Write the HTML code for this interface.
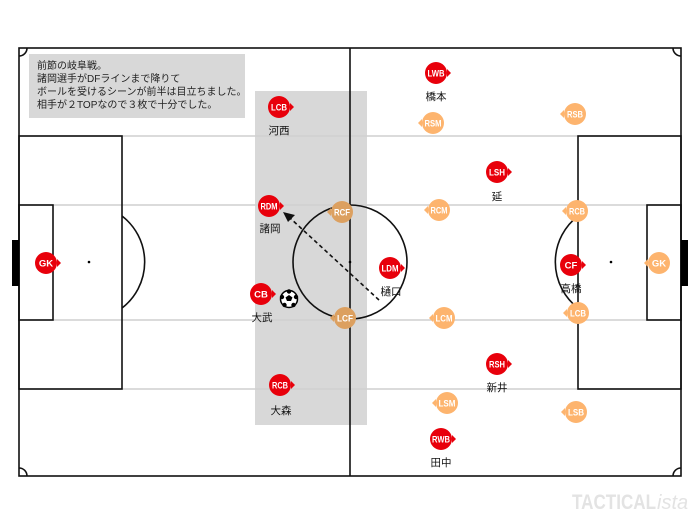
<!DOCTYPE html>
<html><head><meta charset="utf-8"><style>
html,body{margin:0;padding:0;background:#fff;width:700px;height:525px;overflow:hidden}
svg{display:block}
.t{font-family:"Liberation Sans","Noto Sans CJK JP",sans-serif}
.p{font-family:"Liberation Sans",sans-serif;font-weight:bold;font-size:9.5px;fill:#fff;text-anchor:middle}
.n{font-family:"Liberation Sans","Noto Sans CJK JP",sans-serif;font-size:10.5px;fill:#111;text-anchor:middle}
</style></head><body>
<svg width="700" height="525" viewBox="0 0 700 525" xmlns="http://www.w3.org/2000/svg">
<rect x="255" y="91" width="112" height="334" fill="#d8d8d8"/>
<g stroke="#cfcfcf" stroke-width="1.5">
<line x1="19" y1="136" x2="681" y2="136"/>
<line x1="19" y1="205" x2="681" y2="205"/>
<line x1="19" y1="320" x2="681" y2="320"/>
<line x1="19" y1="389" x2="681" y2="389"/>
</g>
<g fill="none" stroke="#111" stroke-width="1.6">
<rect x="19" y="48" width="662" height="428"/>
<line x1="350" y1="48" x2="350" y2="476"/>
<circle cx="350" cy="262" r="57"/>
<rect x="19" y="136" width="103" height="253"/>
<rect x="19" y="205" width="34" height="115"/>
<rect x="578" y="136" width="103" height="253"/>
<rect x="647" y="205" width="34" height="115"/>
<path d="M122 216 A58 58 0 0 1 122 308"/>
<path d="M578 216 A58 58 0 0 0 578 308"/>
<path d="M19 56 A8 8 0 0 0 27 48"/>
<path d="M19 468 A8 8 0 0 1 27 476"/>
<path d="M673 48 A8 8 0 0 0 681 56"/>
<path d="M673 476 A8 8 0 0 1 681 468"/>
</g>
<rect x="12" y="240" width="7" height="46" fill="#000"/>
<rect x="681" y="240" width="7" height="46" fill="#000"/>
<circle cx="89" cy="262" r="1.3" fill="#000"/>
<circle cx="611" cy="262" r="1.3" fill="#000"/>
<circle cx="350" cy="262" r="1.3" fill="#000"/>
<rect x="29" y="54" width="216" height="64" fill="#d8d8d8"/>
<text class="t" font-size="10" fill="#222"><tspan x="37" y="69">前節の岐阜戦。</tspan><tspan x="37" y="82">諸岡選手がDFラインまで降りて</tspan><tspan x="37" y="95">ボールを受けるシーンが前半は目立ちました。</tspan><tspan x="37" y="108">相手が２TOPなので３枚で十分でした。</tspan></text>
<line x1="379" y1="300" x2="290" y2="218" stroke="#111" stroke-width="1.6" stroke-dasharray="4,3"/>
<polygon points="283,212 295,215 288,222" fill="#111"/>
<g>
<g fill="#dca060"><circle cx="342" cy="212" r="11"/><polygon points="331,208 327,212 331,216"/><circle cx="345" cy="318" r="11"/><polygon points="334,314 330,318 334,322"/></g>
<g fill="#fdb46e">
<circle cx="433" cy="123" r="11"/><polygon points="422,119 418,123 422,127"/>
<circle cx="575" cy="114" r="11"/><polygon points="564,110 560,114 564,118"/>
<circle cx="439" cy="210" r="11"/><polygon points="428,206 424,210 428,214"/>
<circle cx="577" cy="211" r="11"/><polygon points="566,207 562,211 566,215"/>
<circle cx="444" cy="318" r="11"/><polygon points="433,314 429,318 433,322"/>
<circle cx="578" cy="313" r="11"/><polygon points="567,309 563,313 567,317"/>
<circle cx="447" cy="403" r="11"/><polygon points="436,399 432,403 436,407"/>
<circle cx="576" cy="412" r="11"/><polygon points="565,408 561,412 565,416"/>
<circle cx="659" cy="263" r="11"/><polygon points="648,259 644,263 648,267"/>
</g>
<text class="p" x="342" y="215.5" textLength="16" lengthAdjust="spacingAndGlyphs">RCF</text><text class="p" x="345" y="321.5" textLength="16" lengthAdjust="spacingAndGlyphs">LCF</text>
<text class="p" x="433" y="126.5" textLength="17" lengthAdjust="spacingAndGlyphs">RSM</text><text class="p" x="575" y="117.5" textLength="16" lengthAdjust="spacingAndGlyphs">RSB</text>
<text class="p" x="439" y="213.5" textLength="17" lengthAdjust="spacingAndGlyphs">RCM</text><text class="p" x="577" y="214.5" textLength="16" lengthAdjust="spacingAndGlyphs">RCB</text>
<text class="p" x="444" y="321.5" textLength="17" lengthAdjust="spacingAndGlyphs">LCM</text><text class="p" x="578" y="316.5" textLength="16" lengthAdjust="spacingAndGlyphs">LCB</text>
<text class="p" x="447" y="406.5" textLength="17" lengthAdjust="spacingAndGlyphs">LSM</text><text class="p" x="576" y="415.5" textLength="16" lengthAdjust="spacingAndGlyphs">LSB</text>
<text class="p" x="659" y="266.5">GK</text>
</g>
<g fill="#e8000b">
<circle cx="46" cy="263" r="11"/><polygon points="57,259 61,263 57,267"/>
<circle cx="279" cy="107" r="11"/><polygon points="290,103 294,107 290,111"/>
<circle cx="269" cy="206" r="11"/><polygon points="280,202 284,206 280,210"/>
<circle cx="261" cy="294" r="11"/><polygon points="272,290 276,294 272,298"/>
<circle cx="280" cy="385" r="11"/><polygon points="291,381 295,385 291,389"/>
<circle cx="390" cy="268" r="11"/><polygon points="401,264 405,268 401,272"/>
<circle cx="436" cy="73" r="11"/><polygon points="447,69 451,73 447,77"/>
<circle cx="497" cy="172" r="11"/><polygon points="508,168 512,172 508,176"/>
<circle cx="497" cy="364" r="11"/><polygon points="508,360 512,364 508,368"/>
<circle cx="441" cy="439" r="11"/><polygon points="452,435 456,439 452,443"/>
<circle cx="571" cy="265" r="11"/><polygon points="582,261 586,265 582,269"/>
</g>
<text class="p" x="46" y="266.5">GK</text><text class="p" x="279" y="110.5" textLength="16" lengthAdjust="spacingAndGlyphs">LCB</text>
<text class="p" x="269" y="209.5" textLength="17" lengthAdjust="spacingAndGlyphs">RDM</text><text class="p" x="261" y="297.5">CB</text>
<text class="p" x="280" y="388.5" textLength="16" lengthAdjust="spacingAndGlyphs">RCB</text><text class="p" x="390" y="271.5" textLength="17" lengthAdjust="spacingAndGlyphs">LDM</text>
<text class="p" x="436" y="76.5" textLength="17" lengthAdjust="spacingAndGlyphs">LWB</text><text class="p" x="497" y="175.5" textLength="16" lengthAdjust="spacingAndGlyphs">LSH</text>
<text class="p" x="497" y="367.5" textLength="16" lengthAdjust="spacingAndGlyphs">RSH</text><text class="p" x="441" y="442.5" textLength="18" lengthAdjust="spacingAndGlyphs">RWB</text>
<text class="p" x="571" y="268.5">CF</text>
<text class="n" x="279" y="134">河西</text><text class="n" x="270" y="232">諸岡</text>
<text class="n" x="262" y="321">大武</text><text class="n" x="281" y="414">大森</text>
<text class="n" x="391" y="295">樋口</text><text class="n" x="436" y="100">橋本</text>
<text class="n" x="497" y="200">延</text><text class="n" x="497" y="391">新井</text>
<text class="n" x="441" y="466">田中</text><text class="n" x="571" y="292">高橋</text>
<circle cx="289" cy="299" r="8.5" fill="#fff" stroke="#000" stroke-width="1.5"/>
<polygon points="289,295 292.5,297.5 291,301 287,301 285.5,297.5" fill="#000"/>
<circle cx="289" cy="291.5" r="2.2" fill="#000"/><circle cx="296" cy="297" r="2.2" fill="#000"/><circle cx="293.5" cy="305" r="2.2" fill="#000"/><circle cx="284.5" cy="305" r="2.2" fill="#000"/><circle cx="282" cy="297" r="2.2" fill="#000"/>
<text x="572" y="509" font-family="Liberation Sans,sans-serif" font-size="21" font-weight="bold" fill="#e3e3e3" textLength="84" lengthAdjust="spacingAndGlyphs">TACTICAL</text>
<text x="657" y="509" font-family="Liberation Sans,sans-serif" font-size="20" font-style="italic" fill="#e3e3e3">ista</text>
</svg>
</body></html>
